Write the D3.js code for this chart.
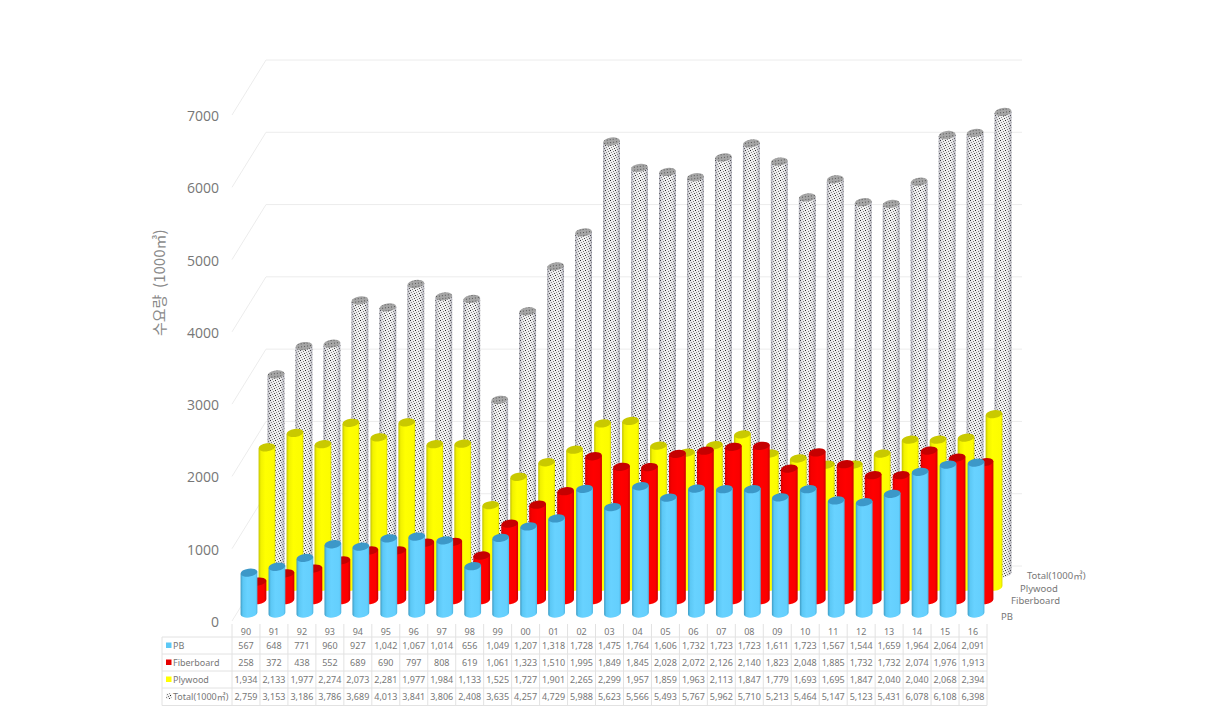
<!DOCTYPE html>
<html><head><meta charset="utf-8">
<script src="https://cdn.jsdelivr.net/npm/d3@7"></script>
<style>html,body{margin:0;padding:0;background:#fff}svg{display:block}text{font-family:"Noto Sans","Noto Sans CJK KR",sans-serif}</style>
</head><body><div id="c"></div>
<script>
const categories = ["90","91","92","93","94","95","96","97","98","99","00","01","02","03","04","05","06","07","08","09","10","11","12","13","14","15","16"];
const seriesNames = ["PB","Fiberboard","Plywood","Total(1000㎥)"];
const pb = [567,648,771,960,927,1042,1067,1014,656,1049,1207,1318,1728,1475,1764,1606,1732,1723,1723,1611,1723,1567,1544,1659,1964,2064,2091];
const fiberboard = [258,372,438,552,689,690,797,808,619,1061,1323,1510,1995,1849,1845,2028,2072,2126,2140,1823,2048,1885,1732,1732,2074,1976,1913];
const plywood = [1934,2133,1977,2274,2073,2281,1977,1984,1133,1525,1727,1901,2265,2299,1957,1859,1963,2113,1847,1779,1693,1695,1847,2040,2040,2068,2394];
const total = [2759,3153,3186,3786,3689,4013,3841,3806,2408,3635,4257,4729,5988,5623,5566,5493,5767,5962,5710,5213,5464,5147,5123,5431,6078,6108,6398];
const yTicks = [0,1000,2000,3000,4000,5000,6000,7000];
const yTitle = "수요량  (1000㎥)";

const values = [pb, fiberboard, plywood, total];
const W = 1206, H = 724;
const svg = d3.select("#c").append("svg").attr("width", W).attr("height", H);
const defs = svg.append("defs");

// scales
const yFront = d3.scaleLinear().domain([0,7000]).range([621,115]);
const height = d3.scaleLinear().domain([0,7000]).range([0,505]);
const xBand = d3.scaleBand().domain(categories).range([232,987]);
const depthX = d3.scalePoint().domain(seriesNames).range([3,30]);
const depthY = d3.scalePoint().domain(seriesNames).range([613.5,573.5]);
const wallDX = 34, wallDY = -55, wallRight = 1022, R = 8.4;

// gradients
function grad(id, stops){
  const g = defs.append("linearGradient").attr("id",id).attr("x1",0).attr("x2",1).attr("y1",0).attr("y2",0);
  stops.forEach(s=>g.append("stop").attr("offset",s[0]).attr("stop-color",s[1]).attr("stop-opacity",s[2]===undefined?1:s[2]));
}
grad("gPB",[[0,"#3f9cc4"],[.14,"#5cc8f5"],[.4,"#68d2ff"],[.88,"#64cffd"],[1,"#50b4e0"]]);
grad("gFB",[[0,"#d80000"],[.16,"#f60000"],[.5,"#ff0000"],[.85,"#fa0000"],[1,"#cc0000"]]);
grad("gPL",[[0,"#c4c400"],[.14,"#f2f200"],[.4,"#ffff00"],[.9,"#fcfc00"],[1,"#d8d800"]]);
grad("gTT",[[0,"#778",.55],[.16,"#889",.12],[.5,"#fff",0],[.8,"#889",.08],[1,"#778",.55]]);
const pat = defs.append("pattern").attr("id","dots").attr("width",5).attr("height",5).attr("patternUnits","userSpaceOnUse");
pat.append("rect").attr("width",5).attr("height",5).attr("fill","#f0f0f0");
[[0,0,"#222"],[3,1,"#777"],[1,2,"#888"],[4,3,"#444"],[2,4,"#7f7f7f"]]
  .forEach(d=>pat.append("rect").attr("x",d[0]).attr("y",d[1]).attr("width",1).attr("height",1).attr("fill",d[2]));
const patTop = defs.append("pattern").attr("id","dotsTop").attr("width",3).attr("height",3).attr("patternUnits","userSpaceOnUse");
patTop.append("rect").attr("width",3).attr("height",3).attr("fill","#a6a6a6");
patTop.append("rect").attr("x",1).attr("y",1).attr("width",1).attr("height",1).attr("fill","#555");

// walls
const grid = svg.append("g").attr("stroke","#ececec").attr("fill","none").attr("stroke-width",1);
yTicks.forEach(t=>{
  const y = yFront(t);
  grid.append("line").attr("x1",232).attr("y1",y).attr("x2",232+wallDX).attr("y2",y+wallDY);
  grid.append("line").attr("x1",232+wallDX).attr("y1",y+wallDY).attr("x2",wallRight).attr("y2",y+wallDY);
});

// y axis
const axisG = svg.append("g").attr("transform","translate(219,1)")
  .call(d3.axisLeft(yFront).tickValues(yTicks).tickSize(0).tickPadding(0).tickFormat(d3.format("d")));
axisG.select(".domain").remove();
axisG.selectAll("text").attr("fill","#777").style("font-size","14px").style("font-family","'Open Sans',sans-serif");

svg.append("text").attr("transform","translate(165,336) rotate(-90)")
  .attr("fill","#8a8a8a").style("font-size","15px").style("font-family","'Noto Sans CJK KR',sans-serif").style("white-space","pre").text(yTitle);

// cylinders
const tilt = 1.1, ry = 4;
function bodyPath(cx, yb, yt){
  return `M${cx-R},${yt+tilt}L${cx-R},${yb+tilt}A${R},${ry} -8 0 0 ${cx+R},${yb-tilt}L${cx+R},${yt-tilt}Z`;
}
const styles = [
  {fill:"url(#gPB)",top:"#3c98c8"},
  {fill:"url(#gFB)",top:"#c60000"},
  {fill:"url(#gPL)",top:"#c9c900"},
  {fill:"url(#dots)",top:"url(#dotsTop)",over:"url(#gTT)"}
];
d3.range(3,-1,-1).forEach(si=>{
  const name = seriesNames[si], st = styles[si];
  const g = svg.append("g").attr("class","series");
  const cy = g.selectAll("g").data(values[si].map((v,i)=>({v,cat:categories[i]}))).join("g");
  const cx = d => xBand(d.cat)+xBand.bandwidth()/2+depthX(name);
  const yb = depthY(name);
  const yt = d => yb-height(d.v);
  cy.append("path").attr("d",d=>bodyPath(cx(d),yb,yt(d))).attr("fill",st.fill);
  if(st.over) cy.append("path").attr("d",d=>bodyPath(cx(d),yb,yt(d))).attr("fill",st.over);
  cy.append("ellipse").attr("cx",cx).attr("cy",yt).attr("rx",R).attr("ry",ry)
    .attr("transform",d=>`rotate(-8 ${cx(d)} ${yt(d)})`).attr("fill",st.top);
});

// depth labels
const depthLabelPos = {"PB":[1001,619.5],"Fiberboard":[1011,604],"Plywood":[1020,592],"Total(1000㎥)":[1027,579]};
seriesNames.forEach(n=>{
  svg.append("text").attr("x",depthLabelPos[n][0]).attr("y",depthLabelPos[n][1])
    .attr("fill","#777").style("font-size","9.5px").text(n);
});

// table
const rowY = d3.scaleBand().domain(["head"].concat(seriesNames)).range([620,705]);
const tg = svg.append("g");
const tableLeft = 162, tableRight = 987, lineCol = "#e2e2e2";
seriesNames.forEach(n=>{
  const y0 = rowY(n);
  tg.append("line").attr("x1",tableLeft).attr("x2",tableRight).attr("y1",y0).attr("y2",y0).attr("stroke",lineCol);
});
tg.append("line").attr("x1",tableLeft).attr("x2",tableRight).attr("y1",705.5).attr("y2",705.5).attr("stroke",lineCol);
tg.append("line").attr("x1",tableLeft).attr("x2",tableLeft).attr("y1",rowY("PB")).attr("y2",705.5).attr("stroke",lineCol);
categories.concat(["end"]).forEach((c,i)=>{
  const x = xBand.range()[0]+i*xBand.step();
  tg.append("line").attr("x1",x).attr("x2",x).attr("y1",624).attr("y2",705.5).attr("stroke",lineCol);
});
const txt = (x,y,s,anchor)=>tg.append("text").attr("x",x).attr("y",y).attr("text-anchor",anchor||"middle").attr("fill","#777").style("font-size","9px").text(s);
categories.forEach(c=>txt(xBand(c)+xBand.bandwidth()/2,635,c));
const keyCols = ["#5cc8f5","#e60000","#ffff00"];
seriesNames.forEach((n,si)=>{
  const y = rowY(n)+rowY.bandwidth()/2;
  tg.append("rect").attr("x",166).attr("y",y-3).attr("width",5.5).attr("height",5.5).attr("fill",si<3?keyCols[si]:"url(#dots)");
  txt(173,y+3.5,n,"start");
  values[si].forEach((v,i)=>txt(xBand(categories[i])+xBand.bandwidth()/2,y+3.5,d3.format(",")(v)));
});
</script></body></html>
